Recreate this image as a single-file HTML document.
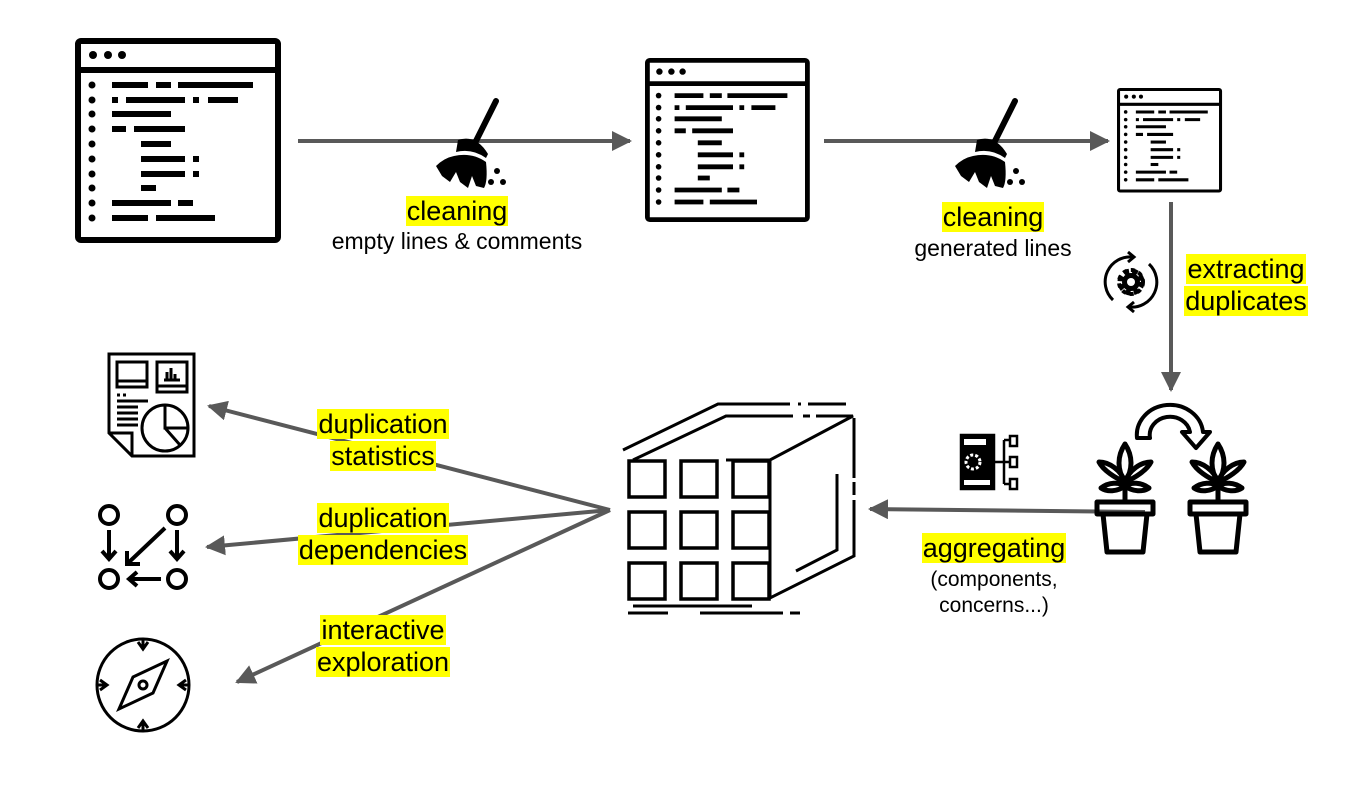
<!DOCTYPE html>
<html><head><meta charset="utf-8"><style>
body{margin:0;width:1365px;height:786px;background:#fff;position:relative;overflow:hidden;font-family:"Liberation Sans",Arial,sans-serif}
svg{position:absolute;left:0;top:0}
.lb{position:absolute;text-align:center;font-size:27px;line-height:32px;color:#000;white-space:nowrap}
.lb span{background:#ffff00;padding:0 1px}
.sm{position:absolute;text-align:center;font-size:23px;line-height:26px;white-space:nowrap}
</style></head><body>
<svg width="1365" height="786" viewBox="0 0 1365 786">
<defs>
<g id="win">
<rect x="3" y="3" width="200" height="199" rx="3" fill="#fff" stroke="#000" stroke-width="6"/>
<line x1="3" y1="32" x2="203" y2="32" stroke="#000" stroke-width="6"/>
<g fill="#000"><circle cx="18" cy="17" r="4"/><circle cx="33" cy="17" r="4"/><circle cx="47" cy="17" r="4"/>
<circle cx="17" cy="47" r="3.5"/><circle cx="17" cy="62" r="3.5"/><circle cx="17" cy="76" r="3.5"/><circle cx="17" cy="91" r="3.5"/><circle cx="17" cy="106" r="3.5"/><circle cx="17" cy="121" r="3.5"/><circle cx="17" cy="136" r="3.5"/><circle cx="17" cy="150" r="3.5"/><circle cx="17" cy="165" r="3.5"/><circle cx="17" cy="180" r="3.5"/></g>
<g stroke="#000" stroke-width="6">
<path d="M37 47H73M81 47H96M103 47H178"/>
<path d="M37 62H43M51 62H110M118 62H124M133 62H163"/>
<path d="M37 76H96"/>
<path d="M37 91H51M59 91H110"/>
<path d="M66 106H96"/>
<path d="M66 121H110M118 121H124"/>
<path d="M66 136H110M118 136H124"/>
<path d="M66 150H81"/>
<path d="M37 165H96M103 165H118"/>
<path d="M37 180H73M81 180H140"/>
</g></g>
<g id="broom">
<line x1="60" y1="5" x2="40" y2="45" stroke="#000" stroke-width="6" stroke-linecap="round"/>
<path d="M22 44 Q40 38 52 58 L50 62 Q36 52 20 56Z" fill="#000"/>
<path d="M18 60 Q36 56 50 66 Q52 85 48 92 L40 90 L36 80 L32 92 L24 86 L20 76 L14 86 L6 80 L0 70 Q8 62 18 60Z" fill="#000"/>
<circle cx="61" cy="75" r="3" fill="#000"/><circle cx="55" cy="86" r="3" fill="#000"/><circle cx="67" cy="86" r="3" fill="#000"/>
</g>
<marker id="ah" viewBox="0 0 10 10" refX="9" refY="5" markerWidth="5" markerHeight="5" orient="auto"><path d="M0 0L10 5L0 10Z" fill="#595959"/></marker>
<g id="plant" fill="none" stroke="#000" stroke-width="5" stroke-linejoin="round">
<path d="M30 60V40"/>
<path d="M30 40C22 28 22 14 30 2C38 14 38 28 30 40Z"/>
<path d="M30 40C20 36 8 28 4 20C14 20 26 28 30 40Z"/>
<path d="M30 40C40 36 52 28 56 20C46 20 34 28 30 40Z"/>
<path d="M30 44C22 50 12 50 6 46C14 40 24 40 30 44Z"/>
<path d="M30 44C38 50 48 50 54 46C46 40 36 40 30 44Z"/>
<rect x="2" y="60" width="56" height="12"/>
<path d="M8 72L12 110H48L52 72"/>
</g>
</defs>

<use href="#win" transform="translate(75,38)"/>
<use href="#win" transform="translate(645,58) scale(0.8)"/>
<use href="#win" transform="translate(1117,88) scale(0.51)"/>

<g stroke="#595959" stroke-width="4" fill="none">
<line x1="298" y1="141" x2="630" y2="141" marker-end="url(#ah)"/>
<line x1="824" y1="141" x2="1108" y2="141" marker-end="url(#ah)"/>
<line x1="1171" y1="202" x2="1171" y2="390" marker-end="url(#ah)"/>
<line x1="1145" y1="512" x2="870" y2="509" marker-end="url(#ah)"/>
<line x1="610" y1="510" x2="209" y2="406" marker-end="url(#ah)"/>
<line x1="610" y1="510" x2="207" y2="547" marker-end="url(#ah)"/>
<line x1="610" y1="510" x2="237" y2="682" marker-end="url(#ah)"/>
</g>

<use href="#broom" transform="translate(436,96)"/>
<use href="#broom" transform="translate(955,96)"/>

<g transform="translate(1131,282)">
<circle r="10" fill="none" stroke="#000" stroke-width="7" stroke-dasharray="5 3"/>
<circle r="12" fill="none" stroke="#000" stroke-width="4" stroke-dasharray="4 4"/>
<circle r="9" fill="#000"/><circle r="4" fill="#fff"/>
<path d="M-18 18A25 25 0 0 1 2 -25M18 -18A25 25 0 0 1 -2 25" fill="none" stroke="#000" stroke-width="3"/>
<path d="M-3 -30L3 -25L-3 -20M3 20L-3 25L3 30" fill="none" stroke="#000" stroke-width="3"/>
</g>

<use href="#plant" transform="translate(1095,442)"/>
<use href="#plant" transform="translate(1188,442)"/>
<path d="M1137 438 A33 30 0 0 1 1203 432 L1210 432 L1196 448 L1182 432 L1190 432 A20 18 0 0 0 1150 438Z" fill="none" stroke="#000" stroke-width="4" stroke-linejoin="round"/>

<g transform="translate(960,434)" stroke="#000" fill="none" stroke-width="2.5">
<rect x="1" y="1" width="33" height="54" fill="#000"/>
<rect x="4" y="5" width="22" height="6" fill="#fff" stroke="none"/>
<circle cx="13" cy="28" r="7" stroke="#fff" stroke-width="3" stroke-dasharray="3 2"/>
<rect x="4" y="46" width="26" height="5" fill="#fff" stroke="none"/>
<path d="M34 28H44M44 6V50M44 6H50M44 28H50M44 50H50"/>
<rect x="50" y="2" width="7" height="10"/><rect x="50" y="23" width="7" height="10"/><rect x="50" y="45" width="7" height="10"/>
</g>

<g fill="none" stroke="#000" stroke-width="3">
<g stroke-width="3.5">
<rect x="629" y="461" width="36" height="36"/><rect x="681" y="461" width="36" height="36"/><rect x="733" y="461" width="36" height="36"/>
<rect x="629" y="512" width="36" height="36"/><rect x="681" y="512" width="36" height="36"/><rect x="733" y="512" width="36" height="36"/>
<rect x="629" y="563" width="36" height="36"/><rect x="681" y="563" width="36" height="36"/><rect x="733" y="563" width="36" height="36"/>
</g>
<path d="M633 460L726 416H793M803 416H810M816 416H853L770 460H726"/>
<path d="M623 450L718 404H790M798 404H801M808 404H846"/>
<path d="M770 460V598L854 556V500M854 495V482M854 478V418"/>
<path d="M837 474V550L796 571"/>
<path d="M633 606H752M628 613H668M700 613H783M790 613H800"/>
</g>

<g transform="translate(108,353)" fill="none" stroke="#000" stroke-width="3">
<path d="M1 1H86V103H24L1 80Z"/><path d="M1 80H24V103"/>
<rect x="9" y="9" width="30" height="25"/><path d="M9 28H39"/>
<rect x="49" y="9" width="30" height="30"/><path d="M49 33H79M56 27H72M59 27V19M63 27V15M67 27V21"/>
<path d="M9 42H12M15 42H18M9 48H40M9 54H30M9 60H30M9 66H30M9 72H30"/>
<circle cx="57" cy="75" r="23"/><path d="M57 52V75H80M57 75L72 92"/>
</g>

<g transform="translate(97,503)" fill="none" stroke="#000" stroke-width="4">
<circle cx="12" cy="12" r="9"/><circle cx="80" cy="12" r="9"/><circle cx="12" cy="76" r="9"/><circle cx="80" cy="76" r="9"/>
<path d="M12 27V55M5 48L12 56L19 48"/>
<path d="M80 27V55M73 48L80 56L87 48"/>
<path d="M64 76H32M40 69L32 76L40 83"/>
<path d="M68 25L30 61M30 48V61H43"/>
</g>

<g transform="translate(143,685)" fill="none" stroke="#000" stroke-width="3">
<circle r="46"/>
<path d="M0 -46V-36M-5 -43L0 -36L5 -43M0 46V36M-5 43L0 36L5 43M-46 0H-36M-43 -5L-36 0L-43 5M46 0H36M43 -5L36 0L43 5"/>
<path d="M-24 24L-10 -8L24 -24L10 8Z"/><circle r="4"/>
</g>
</svg>

<div class="lb" style="left:357px;top:195px;width:200px"><span>cleaning</span></div>
<div class="sm" style="left:307px;top:228px;width:300px">empty lines &amp; comments</div>
<div class="lb" style="left:893px;top:201px;width:200px"><span>cleaning</span></div>
<div class="sm" style="left:843px;top:235px;width:300px">generated lines</div>
<div class="lb" style="left:1146px;top:253px;width:200px"><span>extracting</span><br><span>duplicates</span></div>
<div class="lb" style="left:283px;top:408px;width:200px"><span>duplication</span><br><span>statistics</span></div>
<div class="lb" style="left:283px;top:502px;width:200px"><span>duplication</span><br><span>dependencies</span></div>
<div class="lb" style="left:283px;top:614px;width:200px"><span>interactive</span><br><span>exploration</span></div>
<div class="lb" style="left:894px;top:532px;width:200px"><span>aggregating</span></div>
<div class="sm" style="left:894px;top:567px;width:200px;font-size:21px">(components,<br>concerns...)</div>
</body></html>
